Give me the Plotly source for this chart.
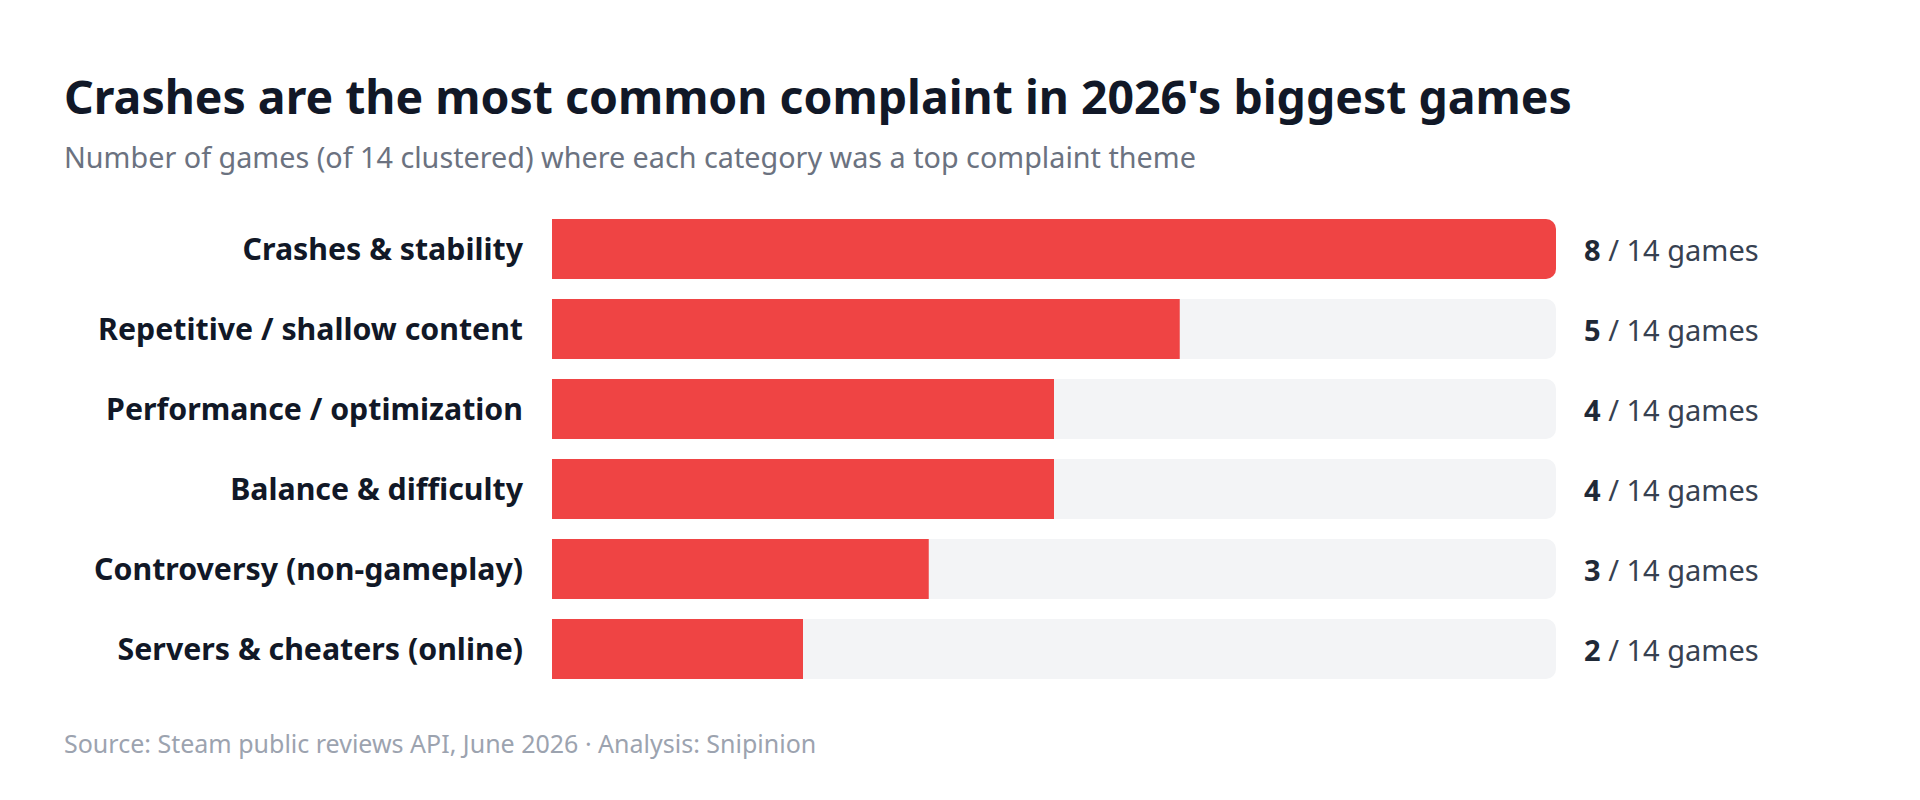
import plotly.graph_objects as go

categories = ["Crashes & stability", "Repetitive / shallow content", "Performance / optimization",
              "Balance & difficulty", "Controversy (non-gameplay)", "Servers & cheaters (online)"]
counts = [8, 5, 4, 4, 3, 2]
total_games = 14
scale_max = max(counts)

title = "Crashes are the most common complaint in 2026's biggest games"
subtitle = "Number of games (of 14 clustered) where each category was a top complaint theme"
footer = "Source: Steam public reviews API, June 2026 · Analysis: Snipinion"

RED = "#ef4444"
TRACK = "#f3f4f6"
FONT = "Noto Sans"

W, H = 1920, 800
ml, mr, mt, mb = 552, 364, 209, 111
pw, ph = W - ml - mr, H - mt - mb

bw = 0.75
fig = go.Figure()
# track
fig.add_trace(go.Bar(y=categories, x=[scale_max] * len(categories), orientation="h",
                     marker=dict(color=TRACK, cornerradius=10, line=dict(width=0)),
                     width=bw, hoverinfo="skip", showlegend=False))
# square fill for the right end of bars shorter than the track (drawn underneath)
cover_base = [(c - 1) if c > 1 else c / 2 for c in counts]
cover_len = [(c - b) if c < scale_max else 0 for c, b in zip(counts, cover_base)]
fig.add_trace(go.Bar(y=categories, x=cover_len, base=cover_base, orientation="h",
                     marker=dict(color=RED, line=dict(width=0)),
                     width=bw, hoverinfo="skip", showlegend=False))
# red value bar (rounded)
fig.add_trace(go.Bar(y=categories, x=counts, orientation="h",
                     marker=dict(color=RED, cornerradius=10, line=dict(width=0)),
                     width=bw, showlegend=False))

annotations = []
for cat, c in zip(categories, counts):
    annotations.append(dict(x=1, xref="paper", y=cat, yref="y", xanchor="left", yanchor="middle",
                            xshift=26, showarrow=False,
                            text=f"<b style='color:#1f2937'>{c}</b> / {total_games} games",
                            font=dict(family=FONT, size=29, color="#374151")))
annotations.append(dict(x=(65 - ml) / pw, xref="paper", y=(H - mb - 157) / ph, yref="paper",
                        xanchor="left", yanchor="middle", showarrow=False, text=subtitle, xshift=-3,
                        font=dict(family=FONT, size=28.75, color="#6b7280")))
annotations.append(dict(x=(65 - ml) / pw, xref="paper", y=(H - mb - 743) / ph, yref="paper",
                        xanchor="left", yanchor="middle", showarrow=False, text=footer, xshift=-3,
                        font=dict(family=FONT, size=25, color="#9ca3af")))

fig.update_layout(
    width=W, height=H, barmode="overlay",
    margin=dict(l=ml, r=mr, t=mt, b=mb),
    paper_bgcolor="white", plot_bgcolor="white",
    title=dict(text=f"<b>{title}</b>", xref="container", yref="container",
               x=64 / W, xanchor="left", y=1 - 98 / H, yanchor="middle",
               font=dict(family=FONT, size=46.4, color="#111827")),
    xaxis=dict(range=[0, scale_max], visible=False, fixedrange=True),
    yaxis=dict(autorange=False, range=[len(categories) - 0.5, -0.5], showgrid=False, zeroline=False,
               showline=False, ticks="", ticklabelstandoff=28,
               tickfont=dict(family=FONT, size=30.3, color="#111827"),
               tickmode="array", tickvals=categories,
               ticktext=[f"<b>{c}</b>" for c in categories], fixedrange=True),
    annotations=annotations,
    showlegend=False,
)

fig.write_html("out.html")
